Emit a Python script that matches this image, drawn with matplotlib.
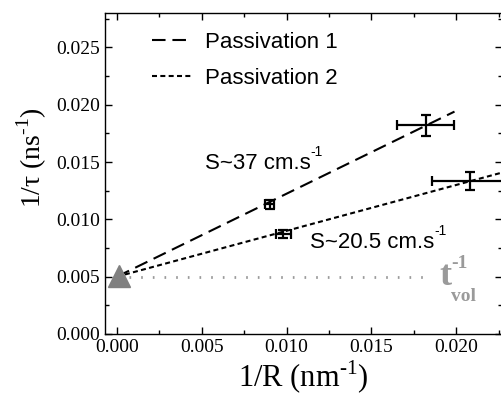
import matplotlib
matplotlib.use('Agg')
import matplotlib.pyplot as plt
from matplotlib.ticker import MultipleLocator

# data
p1_x = [0.0090, 0.0182]
p1_y = [0.0113, 0.0182]
p1_xerr = [0.00024, 0.0017]
p1_yerr = [0.0004, 0.0009]

p2_x = [0.0098, 0.0208]
p2_y = [0.0087, 0.01335]
p2_xerr = [0.00044, 0.0022]
p2_yerr = [0.00035, 0.00076]

# fitted lines (start at bulk value)
fit1_x = [0.0, 0.0199]
fit1_y = [0.005, 0.0194]
fit2_x = [0.0, 0.025]
fit2_y = [0.005, 0.0150]

vol_x = [0.0001]
vol_y = [0.0051]
vol_line_x = [0.0007, 0.0185]
vol_line_y = [0.005, 0.005]

serif = ['Liberation Serif', 'DejaVu Serif']
sans = ['Liberation Sans', 'DejaVu Sans']
grey = '#9a9a9a'

plt.rcParams['font.family'] = serif
plt.rcParams['mathtext.fontset'] = 'custom'
plt.rcParams['mathtext.rm'] = 'Liberation Serif'
plt.rcParams['mathtext.bf'] = 'Liberation Serif:bold'

fig = plt.figure(figsize=(5.01, 3.99), dpi=100)
ax = fig.add_axes([105 / 501, (399 - 334) / 399, 397 / 501, 321 / 399])

ax.plot(fit1_x, fit1_y, color='black', lw=1.5, dashes=(6.5, 3.3), label='Passivation 1')
ax.plot(fit2_x, fit2_y, color='black', lw=1.5, dashes=(2.4, 1.6), label='Passivation 2')

ax.errorbar(p1_x, p1_y, xerr=p1_xerr, yerr=p1_yerr, fmt='none', ecolor='black',
            elinewidth=1.6, capsize=3.5, capthick=1.6)
ax.errorbar(p2_x, p2_y, xerr=p2_xerr, yerr=p2_yerr, fmt='none', ecolor='black',
            elinewidth=1.6, capsize=3.5, capthick=1.6)

ax.plot(vol_line_x, vol_line_y, color=grey, lw=2, dashes=(0.6, 3.6))
ax.plot(vol_x, vol_y, marker='^', markersize=16.5, color='#808080', ls='none', zorder=5, clip_on=False)

# t_vol^-1 label
t = ax.text(0.0190, 0.00428, 't', color=grey, fontsize=26, fontweight='bold',
            ha='left', va='baseline')
ax.annotate('-1', xy=(1.0, 0.62), xycoords=t, color=grey, fontsize=14,
            fontweight='bold', ha='left', va='bottom')
ax.annotate('vol', xy=(1.0, 0.16), xycoords=t, color=grey, fontsize=14,
            fontweight='bold', ha='left', va='top')

# slope labels
s1 = ax.text(0.00518, 0.0149, 'S~37 cm.s', family=sans, fontsize=16, ha='left', va='center')
ax.annotate('-1', xy=(1.0, 0.72), xycoords=s1, family=sans, fontsize=10, ha='left', va='bottom')
s2 = ax.text(0.0114, 0.0080, 'S~20.5 cm.s', family=sans, fontsize=16, ha='left', va='center')
ax.annotate('-1', xy=(1.0, 0.72), xycoords=s2, family=sans, fontsize=10, ha='left', va='bottom')

ax.set_xlim(-0.0007, 0.0227)
ax.set_ylim(0.0, 0.028)
ax.xaxis.set_major_locator(MultipleLocator(0.005))
ax.xaxis.set_minor_locator(MultipleLocator(0.0025))
ax.yaxis.set_major_locator(MultipleLocator(0.005))
ax.yaxis.set_minor_locator(MultipleLocator(0.0025))
ax.xaxis.set_major_formatter(plt.FormatStrFormatter('%.3f'))
ax.yaxis.set_major_formatter(plt.FormatStrFormatter('%.3f'))
ax.tick_params(which='both', direction='in', top=True, right=True, labelsize=14, width=1)
ax.tick_params(which='major', length=5)
ax.tick_params(which='minor', length=3)
for s in ax.spines.values():
    s.set_linewidth(1)

ax.set_xlabel(r'1/R (nm$^{\text{-1}}$)', fontsize=22, labelpad=2)
ax.set_ylabel('1/τ (ns$^{\\text{-1}}$)', fontsize=20)
ax.yaxis.set_label_coords(-0.14, 0.55)

leg = ax.legend(loc='upper left', bbox_to_anchor=(0.08, 0.99), frameon=False,
                prop={'family': sans, 'size': 16}, handlelength=1.75, handletextpad=0.6,
                labelspacing=0.69, borderaxespad=0.3)

fig.savefig('out.png', dpi=100)
